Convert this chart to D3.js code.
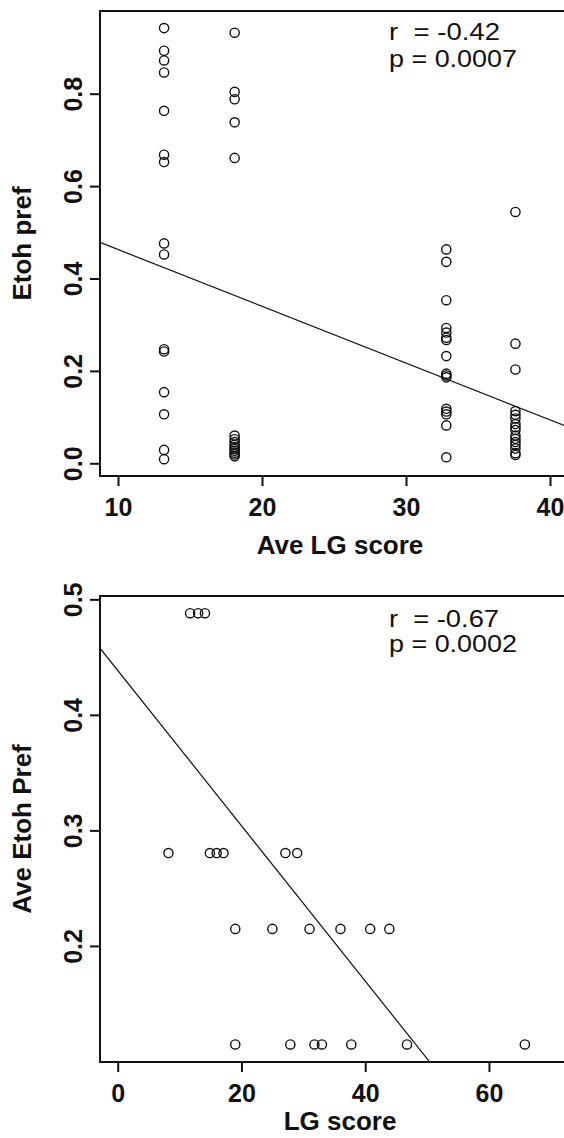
<!DOCTYPE html>
<html>
<head>
<meta charset="utf-8">
<script src="https://cdn.jsdelivr.net/npm/d3@7"></script>
<style>
  body { margin: 0; background: #fff; }
  svg { display: block; }
  .tick line { stroke: #111; stroke-width: 2; }
  .tick text { font-family: "Liberation Sans", Arial, sans-serif; font-weight: bold; font-size: 25px; fill: #111; }
  .title { font-family: "Liberation Sans", Arial, sans-serif; font-weight: bold; font-size: 26px; fill: #111; }
  .stat { font-family: "Liberation Sans", Arial, sans-serif; font-size: 23px; fill: #111; white-space: pre; }
</style>
</head>
<body>
<div id="chart"></div>
<script>
// top panel: Ave LG score groups and the Etoh pref values in each
const aveLgGroups = [13.2, 18.1, 32.8, 37.6];
const etohPref132 = [0.942, 0.893, 0.872, 0.846, 0.763, 0.668, 0.652, 0.476, 0.452, 0.247, 0.242, 0.154, 0.106, 0.029, 0.009];
const etohPref181 = [0.932, 0.804, 0.788, 0.738, 0.661, 0.06, 0.052, 0.046, 0.04, 0.035, 0.031, 0.027, 0.023, 0.019, 0.015];
const etohPref328 = [0.463, 0.436, 0.353, 0.293, 0.283, 0.272, 0.267, 0.232, 0.194, 0.19, 0.186, 0.118, 0.112, 0.106, 0.082, 0.013];
const etohPref376 = [0.544, 0.259, 0.203, 0.113, 0.105, 0.097, 0.085, 0.078, 0.072, 0.06, 0.053, 0.046, 0.04, 0.032, 0.022, 0.018];
const topFit = { intercept: 0.5856, slope: -0.01229 };
const topXTicks = [10, 20, 30, 40];
const topYTicks = [0.0, 0.2, 0.4, 0.6, 0.8];
const topStats = ["r  = -0.42", "p = 0.0007"];

// bottom panel: LG score vs Ave Etoh Pref
const lgScore =     [11.7, 13.0, 14.1, 8.2, 14.9, 16.0, 17.1, 27.1, 29.0, 19.0, 25.0, 31.0, 36.0, 40.8, 43.9, 19.0, 27.9, 31.8, 33.0, 37.75, 46.75, 65.8];
const aveEtohPref = [0.488, 0.488, 0.488, 0.2804, 0.2804, 0.2804, 0.2804, 0.2804, 0.2804, 0.2147, 0.2147, 0.2147, 0.2147, 0.2147, 0.2147, 0.1147, 0.1147, 0.1147, 0.1147, 0.1147, 0.1147, 0.1147];
const bottomFit = { intercept: 0.4385, slope: -0.006723 };
const bottomXTicks = [0, 20, 40, 60];
const bottomYTicks = [0.2, 0.3, 0.4, 0.5];
const bottomStats = ["r  = -0.67", "p = 0.0002"];

const w = 564;
const h = 1138;

const svg = d3.select("#chart").append("svg")
  .attr("width", w)
  .attr("height", h);

const topPoints = [];
[etohPref132, etohPref181, etohPref328, etohPref376].forEach((vals, i) => {
  vals.forEach(v => topPoints.push([aveLgGroups[i], v]));
});
const bottomPoints = lgScore.map((d, i) => [d, aveEtohPref[i]]);

function panel(opts) {
  const { id, left, right, top, bottom, xDomain, yDomain, points, fit, xTicks, yTicks, xTitle, xTitleY, yTitle, stats, statY, statW } = opts;

  const x = d3.scaleLinear().domain(xDomain).range([left, right]);
  const y = d3.scaleLinear().domain(yDomain).range([bottom, top]);

  svg.append("clipPath").attr("id", id)
    .append("rect")
    .attr("x", left).attr("y", top)
    .attr("width", right - left).attr("height", bottom - top);

  const g = svg.append("g");

  // points
  g.selectAll("circle")
    .data(points)
    .enter()
    .append("circle")
    .attr("cx", d => x(d[0]))
    .attr("cy", d => y(d[1]))
    .attr("r", 4.6)
    .attr("fill", "none")
    .attr("stroke", "#111")
    .attr("stroke-width", 1.4);

  // regression line
  g.append("line")
    .attr("clip-path", `url(#${id})`)
    .attr("x1", x(xDomain[0]))
    .attr("y1", y(fit.intercept + fit.slope * xDomain[0]))
    .attr("x2", x(xDomain[1]))
    .attr("y2", y(fit.intercept + fit.slope * xDomain[1]))
    .attr("stroke", "#111")
    .attr("stroke-width", 1.2);

  // box
  g.append("rect")
    .attr("x", left).attr("y", top)
    .attr("width", right - left).attr("height", bottom - top)
    .attr("fill", "none")
    .attr("stroke", "#111")
    .attr("stroke-width", 2);

  const xAxis = d3.axisBottom(x).tickValues(xTicks).tickSize(10).tickFormat(d3.format("d"));
  const xg = g.append("g")
    .attr("transform", `translate(0, ${bottom})`)
    .call(xAxis);
  xg.select(".domain").remove();
  xg.selectAll("text").attr("dy", 0).attr("y", 40);

  const yAxis = d3.axisLeft(y).tickValues(yTicks).tickSize(10).tickFormat(d3.format(".1f"));
  const yg = g.append("g")
    .attr("transform", `translate(${left}, 0)`)
    .call(yAxis);
  yg.select(".domain").remove();
  yg.selectAll("text")
    .attr("dy", 0)
    .attr("x", 0)
    .attr("y", -18)
    .attr("text-anchor", "middle")
    .attr("transform", "rotate(-90)");

  g.append("text")
    .attr("class", "title")
    .attr("text-anchor", "middle")
    .attr("x", (left + right) / 2)
    .attr("y", xTitleY)
    .text(xTitle);

  g.append("text")
    .attr("class", "title")
    .attr("text-anchor", "middle")
    .attr("transform", `translate(31, ${(top + bottom) / 2}) rotate(-90)`)
    .text(yTitle);

  stats.forEach((s, i) => {
    g.append("text")
      .attr("class", "stat")
      .attr("x", 389)
      .attr("y", statY[i])
      .attr("textLength", statW[i])
      .attr("lengthAdjust", "spacingAndGlyphs")
      .text(s);
  });
}

panel({
  id: "clipTop",
  left: 100, right: 580, top: 11, bottom: 476,
  xDomain: [8.75, 10 + (580 - 118) / 14.4],
  yDomain: [-0.0275, 0.979],
  points: topPoints,
  fit: topFit,
  xTicks: topXTicks,
  yTicks: topYTicks,
  xTitle: "Ave LG score",
  xTitleY: 554,
  yTitle: "Etoh pref",
  stats: topStats,
  statY: [40, 66.5],
  statW: [111, 128]
});

panel({
  id: "clipBottom",
  left: 100, right: 580, top: 596, bottom: 1062,
  xDomain: [-2.86, (580 - 117.7) / 6.188],
  yDomain: [0.0995, 0.5029],
  points: bottomPoints,
  fit: bottomFit,
  xTicks: bottomXTicks,
  yTicks: bottomYTicks,
  xTitle: "LG score",
  xTitleY: 1130,
  yTitle: "Ave Etoh Pref",
  stats: bottomStats,
  statY: [626.5, 651.5],
  statW: [110, 128]
});
</script>
</body>
</html>
